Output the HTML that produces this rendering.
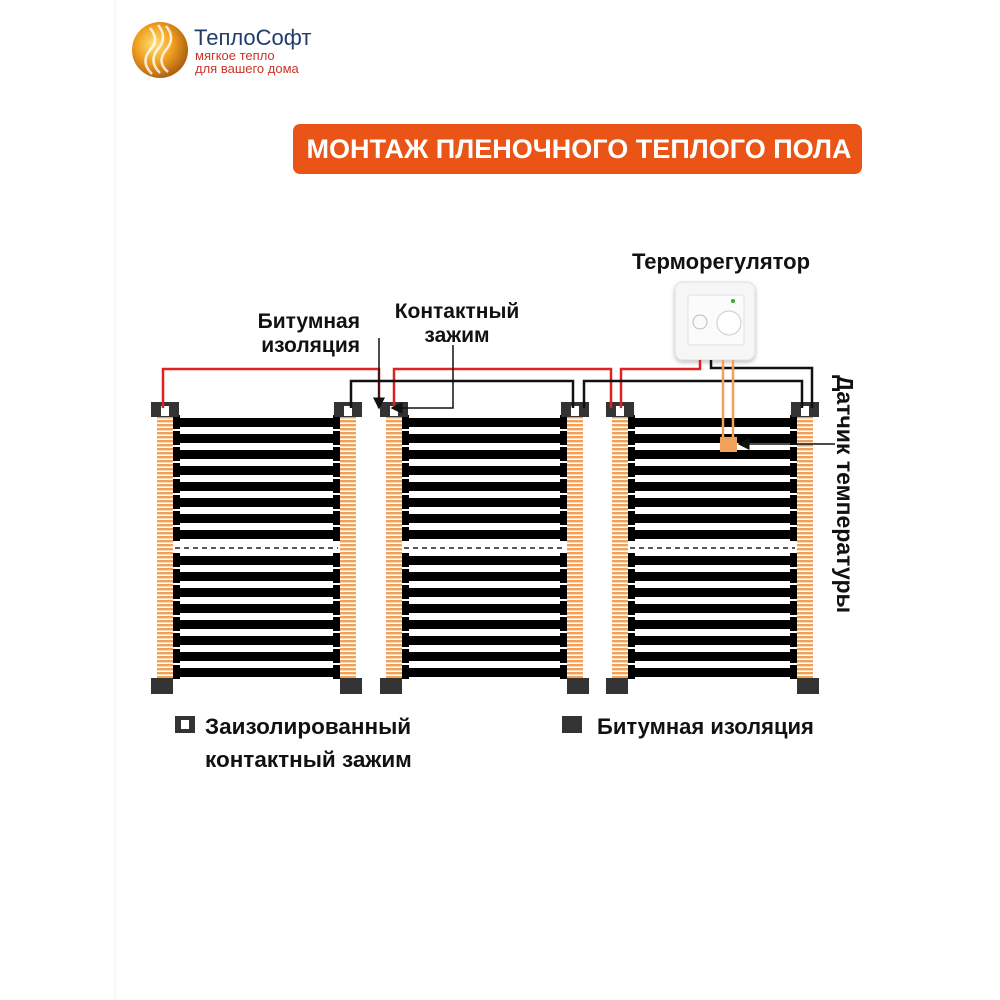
<!DOCTYPE html>
<html><head><meta charset="utf-8"><style>
body{margin:0;background:#fff;}
svg{display:block;font-family:"Liberation Sans",sans-serif;}
</style></head><body>
<svg id="s" width="1000" height="1000" viewBox="0 0 1000 1000" xmlns="http://www.w3.org/2000/svg">
<defs>
<pattern id="hat" width="16" height="4" patternUnits="userSpaceOnUse">
<rect width="16" height="4" fill="#fff"/><rect x="0" y="0" width="16" height="2.4" fill="#f2a15a"/>
</pattern>
<radialGradient id="sun" cx="40%" cy="40%" r="65%"><stop offset="0" stop-color="#ffe27a"/><stop offset="0.5" stop-color="#f0a020"/><stop offset="1" stop-color="#a85a10"/></radialGradient>
<marker id="ar" markerWidth="8" markerHeight="8" refX="7" refY="4" orient="auto"><path d="M0,0 L8,4 L0,8z" fill="#111"/></marker>
<filter id="sh" x="-20%" y="-20%" width="140%" height="140%"><feDropShadow dx="0" dy="2" stdDeviation="2" flood-opacity="0.25"/></filter>
</defs>
<line x1="115" y1="0" x2="115" y2="1000" stroke="#f0f0f0" stroke-width="1"/>
<circle cx="160" cy="50" r="28" fill="url(#sun)"/>
<path d="M150,28 q10,12 0,22 q-10,12 2,24 M158,25 q10,12 0,24 q-10,12 2,24 M166,26 q10,12 0,24 q-10,12 2,22" stroke="#fff" stroke-width="2.5" fill="none" opacity="0.8"/>
<text x="194" y="45" font-size="22" fill="#1f3d6b">ТеплоСофт</text>
<text x="195" y="60" font-size="13" fill="#c9352a">мягкое тепло</text>
<text x="195" y="73" font-size="13" fill="#c9352a">для вашего дома</text>
<rect x="293" y="124" width="569" height="50" rx="7" fill="#ea5416"/>
<text x="579" y="158" font-size="26.8" font-weight="bold" fill="#fff" text-anchor="middle" textLength="545" lengthAdjust="spacingAndGlyphs">МОНТАЖ ПЛЕНОЧНОГО ТЕПЛОГО ПОЛА</text>
<text x="721" y="269" font-size="22" font-weight="bold" fill="#111" text-anchor="middle">Терморегулятор</text>
<text x="360" y="328" font-size="21" font-weight="bold" fill="#111" text-anchor="end">Битумная</text>
<text x="360" y="352" font-size="21" font-weight="bold" fill="#111" text-anchor="end">изоляция</text>
<text x="457" y="318" font-size="21" font-weight="bold" fill="#111" text-anchor="middle">Контактный</text>
<text x="457" y="342" font-size="21" font-weight="bold" fill="#111" text-anchor="middle">зажим</text>
<text transform="translate(837,375) rotate(90)" font-size="23" font-weight="bold" fill="#111">Датчик температуры</text>
<rect x="675" y="282" width="80" height="78" rx="8" fill="#f6f6f6" stroke="#e0e0e0" filter="url(#sh)"/>
<rect x="688" y="295" width="56" height="50" rx="3" fill="#fbfbfb" stroke="#e2e2e2"/>
<circle cx="729" cy="323" r="12" fill="#fff" stroke="#ccc"/>
<circle cx="700" cy="322" r="7" fill="none" stroke="#bbb"/>
<circle cx="733" cy="301" r="2" fill="#3a3"/>
<g id="panels"></g>
<g fill="none" stroke-width="2.5">
<path d="M163,408 V369 H379 V408" stroke="#d22"/>
<path d="M394,408 V369 H611 V408" stroke="#d22"/>
<path d="M621,408 V369 H700 V360" stroke="#d22"/>
<path d="M351,408 V381 H573 V408" stroke="#111"/>
<path d="M584,408 V381 H802 V408" stroke="#111"/>
<path d="M711,360 V368 H812 V408" stroke="#111"/>
</g>
<path d="M723,360 V440 M733,360 V440" stroke="#f2a15a" stroke-width="2.5"/>
<rect x="720" y="437" width="17" height="15" fill="#f2a15a"/>
<line x1="835" y1="444" x2="739" y2="444" stroke="#111" stroke-width="1.5" marker-end="url(#ar)"/>
<line x1="379" y1="338" x2="379" y2="408" stroke="#111" stroke-width="1.5" marker-end="url(#ar)"/>
<path d="M453,345 V408 H392" stroke="#111" stroke-width="1.5" fill="none" marker-end="url(#ar)"/>
<rect x="175" y="716" width="20" height="17" fill="#333"/><rect x="181" y="720" width="8" height="9" fill="#fff"/>
<text x="205" y="734" font-size="22.5" font-weight="bold" fill="#111">Заизолированный</text>
<text x="205" y="767" font-size="22.5" font-weight="bold" fill="#111">контактный зажим</text>
<rect x="562" y="716" width="20" height="17" fill="#333"/>
<text x="597" y="734" font-size="22" font-weight="bold" fill="#111">Битумная изоляция</text>
</svg>
<script>
var g=document.getElementById('panels'),h='';
var P=[[157,340],[386,567],[612,797]];
function r(x,y,w,hh,f){h+='<rect x="'+x+'" y="'+y+'" width="'+w+'" height="'+hh+'" fill="'+f+'"/>';}
P.forEach(function(p){
 var L=p[0],R=p[1];
 r(L,416,16,264,'url(#hat)');r(R,416,16,264,'url(#hat)');
 var ys=[];for(var i=0;i<8;i++)ys.push(422+16*i);for(i=0;i<8;i++)ys.push(560+16*i);
 ys.forEach(function(y){r(L+16,y-4,R-L-16,9,'#000');r(L+16,y-7,7,14,'#000');r(R-7,y-7,7,14,'#000');});
 h+='<line x1="'+(L+18)+'" y1="548" x2="'+(R-2)+'" y2="548" stroke="#222" stroke-width="1.5" stroke-dasharray="5,4"/>';
 r(L-6,402,28,15,'#333');r(L+4,406,8,10,'#fff');
 r(R-6,402,28,15,'#333');r(R+4,406,8,10,'#fff');
 r(L-6,678,22,16,'#333');r(R,678,22,16,'#333');
});
g.innerHTML=h;
</script>
</body></html>
